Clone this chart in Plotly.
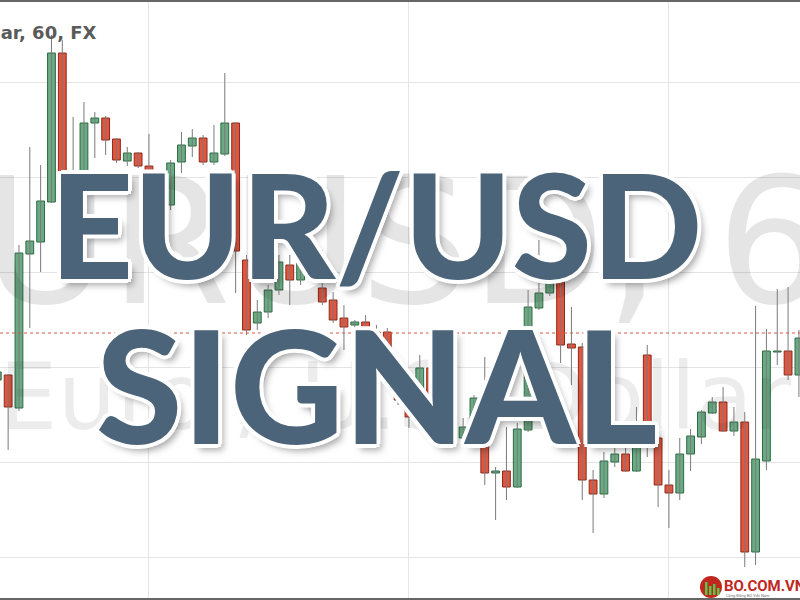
import plotly.graph_objects as go

# ---------------- data (hourly EUR/USD candles) ----------------
candle_index = list(range(75))
open_ = [1.11240, 1.11250, 1.11184, 1.11492, 1.11516, 1.11596, 1.11894, 1.11600, 1.11630, 1.11754,
         1.11764, 1.11722, 1.11678, 1.11694, 1.11668, 1.11650, 1.11590, 1.11676, 1.11708, 1.11724,
         1.11676, 1.11692, 1.11754, 1.11480, 1.11354, 1.11376, 1.11420, 1.11470, 1.11440, 1.11506,
         1.11424, 1.11400, 1.11364, 1.11350, 1.11356, 1.11320, 1.11336, 1.11264, 1.11200, 1.11160,
         1.11264, 1.11210, 1.11150, 1.11124, 1.11140, 1.11120, 1.11054, 1.11058, 1.11026, 1.11140,
         1.11384, 1.11414, 1.11440, 1.11312, 1.11306, 1.11040, 1.11012, 1.11076, 1.11092, 1.11058,
         1.11290, 1.11124, 1.11030, 1.11014, 1.11092, 1.11126, 1.11174, 1.11196, 1.11138, 1.11156,
         1.10896, 1.11078, 1.11296, 1.11298, 1.11250]
high = [1.11264, 1.11252, 1.11510, 1.11706, 1.11670, 1.11930, 1.11920, 1.11766, 1.11796, 1.11776,
        1.11768, 1.11724, 1.11706, 1.11696, 1.11732, 1.11660, 1.11680, 1.11736, 1.11742, 1.11730,
        1.11750, 1.11854, 1.11756, 1.11490, 1.11400, 1.11430, 1.11490, 1.11490, 1.11520, 1.11540,
        1.11500, 1.11416, 1.11390, 1.11360, 1.11370, 1.11350, 1.11344, 1.11280, 1.11210, 1.11290,
        1.11276, 1.11220, 1.11160, 1.11164, 1.11210, 1.11286, 1.11066, 1.11146, 1.11154, 1.11420,
        1.11520, 1.11460, 1.11450, 1.11386, 1.11314, 1.11060, 1.11096, 1.11104, 1.11104, 1.11186,
        1.11310, 1.11136, 1.11060, 1.11124, 1.11142, 1.11180, 1.11206, 1.11226, 1.11186, 1.11176,
        1.11388, 1.11342, 1.11422, 1.11426, 1.11340]
low = [1.11230, 1.11100, 1.11178, 1.11344, 1.11456, 1.11594, 1.11590, 1.11590, 1.11620, 1.11684,
       1.11690, 1.11674, 1.11668, 1.11664, 1.11644, 1.11580, 1.11580, 1.11654, 1.11686, 1.11670,
       1.11670, 1.11688, 1.11414, 1.11330, 1.11340, 1.11364, 1.11410, 1.11390, 1.11430, 1.11480,
       1.11390, 1.11354, 1.11300, 1.11334, 1.11310, 1.11300, 1.11250, 1.11190, 1.11144, 1.11150,
       1.11200, 1.11140, 1.11110, 1.11120, 1.11136, 1.11030, 1.10960, 1.11000, 1.11024, 1.11136,
       1.11380, 1.11408, 1.11274, 1.11230, 1.11000, 1.10934, 1.11004, 1.11066, 1.11056, 1.11056,
       1.11086, 1.10986, 1.10944, 1.11000, 1.11058, 1.11112, 1.11172, 1.11136, 1.11128, 1.10866,
       1.10870, 1.11060, 1.11270, 1.11240, 1.11206]
close = [1.11256, 1.11186, 1.11494, 1.11518, 1.11598, 1.11894, 1.11600, 1.11630, 1.11754, 1.11764,
         1.11720, 1.11680, 1.11694, 1.11668, 1.11650, 1.11590, 1.11674, 1.11710, 1.11724, 1.11676,
         1.11694, 1.11754, 1.11498, 1.11340, 1.11376, 1.11420, 1.11476, 1.11440, 1.11500, 1.11486,
         1.11396, 1.11360, 1.11346, 1.11356, 1.11320, 1.11336, 1.11264, 1.11200, 1.11166, 1.11264,
         1.11210, 1.11150, 1.11120, 1.11146, 1.11204, 1.11054, 1.11058, 1.11026, 1.11142, 1.11386,
         1.11414, 1.11436, 1.11310, 1.11304, 1.11040, 1.11012, 1.11078, 1.11092, 1.11058, 1.11106,
         1.11120, 1.11030, 1.11014, 1.11092, 1.11128, 1.11176, 1.11196, 1.11138, 1.11156, 1.10896,
         1.11082, 1.11298, 1.11298, 1.11250, 1.11324]
last_price = 1.11334

title_line = "EUR/USD"
subtitle_line = "SIGNAL"
watermark_symbol = "EURUSD, 60"
watermark_name = "Euro / U.S. Dollar"
header_text = "Euro / U.S. Dollar, 60, FX"
logo_text = "BO.COM.VN"
logo_sub = "Cộng Đồng BO Việt Nam"

# ---------------- styling ----------------
X_RANGE = [0.249, 74.10]
Y_RANGE = [1.10800, 1.12000]
UP_FILL, UP_LINE = "#6aab84", "#2c6a43"
DN_FILL, DN_LINE = "#e2553f", "#8c2a1c"
WICK = "#7a7a7a"
TEXT_BLUE = "#4c6479"


def px_x(px):
    return X_RANGE[0] + px / 800 * (X_RANGE[1] - X_RANGE[0])


def px_y(py):
    return Y_RANGE[1] - py / 600 * (Y_RANGE[1] - Y_RANGE[0])


fig = go.Figure()

# watermark texts (under the candles)
fig.add_trace(go.Scatter(
    x=[px_x(405)], y=[px_y(259)], mode="text", text=[watermark_symbol],
    textfont=dict(family="DejaVu Sans", size=175, color="rgba(0,0,0,0.10)"),
    textposition="middle center", hoverinfo="skip", showlegend=False))
fig.add_trace(go.Scatter(
    x=[px_x(395)], y=[px_y(406)], mode="text", text=[watermark_name],
    textfont=dict(family="DejaVu Sans", size=93, color="rgba(0,0,0,0.075)"),
    textposition="middle center", hoverinfo="skip", showlegend=False))

# wicks
wx, wy = [], []
for i, h, l in zip(candle_index, high, low):
    wx += [i, i, None]
    wy += [l, h, None]
fig.add_trace(go.Scatter(x=wx, y=wy, mode="lines", line=dict(color=WICK, width=1),
                         hoverinfo="skip", showlegend=False))

# bodies
base = [min(o, c) for o, c in zip(open_, close)]
height = [max(abs(c - o), 0.00001) for o, c in zip(open_, close)]
is_up = [c >= o for o, c in zip(open_, close)]
fig.add_trace(go.Bar(
    x=candle_index, base=base, y=height, width=0.72,
    marker=dict(color=[UP_FILL if u else DN_FILL for u in is_up],
                line=dict(color=[UP_LINE if u else DN_LINE for u in is_up], width=1)),
    hoverinfo="skip", showlegend=False))

# last price dotted line
fig.add_shape(type="line", xref="paper", x0=0, x1=1, y0=last_price, y1=last_price,
              line=dict(color="#e2553f", width=1, dash="3px,3px"))

# frame lines top/bottom
fig.add_shape(type="line", xref="paper", yref="paper", x0=0, x1=1, y0=0.9985, y1=0.9985,
              line=dict(color="#666666", width=2))
fig.add_shape(type="line", xref="paper", yref="paper", x0=0, x1=1, y0=0.0015, y1=0.0015,
              line=dict(color="#666666", width=2))

outline = ("4px 0 0 #fff, -4px 0 0 #fff, 0 4px 0 #fff, 0 -4px 0 #fff, "
           "3px 3px 0 #fff, -3px -3px 0 #fff, 3px -3px 0 #fff, -3px 3px 0 #fff, "
           "5px 6px 7px rgba(0,0,0,0.35)")

fig.add_annotation(text=title_line, xref="paper", yref="paper", x=376 / 800, y=1 - 223 / 600,
                   xanchor="center", yanchor="middle", showarrow=False,
                   font=dict(family="Lato", weight=900, size=145, color=TEXT_BLUE, shadow=outline))
fig.add_annotation(text=subtitle_line, xref="paper", yref="paper", x=376 / 800, y=1 - 383 / 600,
                   xanchor="center", yanchor="middle", showarrow=False,
                   font=dict(family="Lato", weight=900, size=157, color=TEXT_BLUE, shadow=outline))

# header text, truncated at left edge
fig.add_annotation(text=header_text, xref="paper", yref="paper", x=99 / 800, y=1 - 32 / 600,
                   xanchor="right", yanchor="middle", showarrow=False,
                   font=dict(family="DejaVu Sans", weight=700, size=18, color="#5a5a5a"))

# logo
fig.add_shape(type="circle", xref="paper", yref="paper",
              x0=700 / 800, x1=722 / 800, y0=1 - 598 / 600, y1=1 - 576 / 600,
              fillcolor="#c0281f", line=dict(width=0))
for bx, btop in [(705, 582), (709, 586), (713, 584), (717, 588)]:
    fig.add_shape(type="rect", xref="paper", yref="paper",
                  x0=bx / 800, x1=(bx + 2.5) / 800, y0=1 - 595 / 600, y1=1 - btop / 600,
                  fillcolor="#5cc24a", line=dict(width=0))
fig.add_annotation(text="<b>" + logo_text + "</b>", xref="paper", yref="paper",
                   x=722 / 800, y=1 - 586 / 600, xanchor="left", yanchor="middle", showarrow=False,
                   font=dict(family="Roboto", size=15, color="#c0281f"))
fig.add_annotation(text=logo_sub, xref="paper", yref="paper",
                   x=724 / 800, y=1 - 595 / 600, xanchor="left", yanchor="middle", showarrow=False,
                   font=dict(family="Roboto", size=4, color="#777777"))

fig.update_layout(
    width=800, height=600, margin=dict(l=0, r=0, t=0, b=0),
    paper_bgcolor="white", plot_bgcolor="white",
    barmode="overlay", showlegend=False, hovermode=False,
    xaxis=dict(range=X_RANGE, showgrid=True, gridcolor="#e4e4e4", gridwidth=1,
               tick0=14, dtick=24, showticklabels=False, zeroline=False, showline=False,
               ticks=""),
    yaxis=dict(range=Y_RANGE, showgrid=True, gridcolor="#e4e4e4", gridwidth=1,
               tick0=1.10886, dtick=0.0019, showticklabels=False, zeroline=False,
               showline=False, ticks=""),
)

fig.write_html("out.html", config={"displayModeBar": False, "staticPlot": True},
               post_script="document.body.style.margin='0';")
